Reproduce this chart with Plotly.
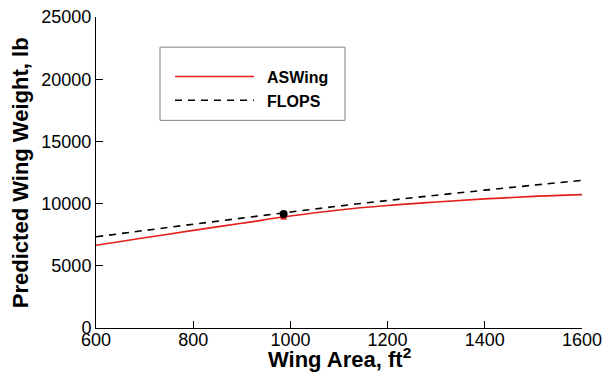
import plotly.graph_objects as go

# Data
area = [600, 700, 800, 900, 1000, 1100, 1200, 1300, 1400, 1500, 1600]
aswing_weight = [6650, 7250, 7850, 8420, 9000, 9490, 9850, 10130, 10380, 10580, 10720]
flops_weight = [7330, 7840, 8340, 8830, 9320, 9800, 10250, 10670, 11080, 11480, 11870]

design_area = [986]
design_aswing = [8950]
design_flops = [9170]

x_ticks = [600, 800, 1000, 1200, 1400, 1600]
y_ticks = [0, 5000, 10000, 15000, 20000, 25000]
y_tick_labels = [str(v) for v in y_ticks]
series_names = ["\u2002ASWing", "\u2002FLOPS"]
x_title = "Wing Area, ft<sup>2</sup>"
y_title = "Predicted Wing Weight, lb"

FONT = "Liberation Sans, Arial, Helvetica, sans-serif"

fig = go.Figure()
fig.add_trace(go.Scatter(
    x=area, y=aswing_weight, mode="lines", name=series_names[0],
    line=dict(color="#e3201b", width=1.6, shape="spline"),
))
fig.add_trace(go.Scatter(
    x=area, y=flops_weight, mode="lines", name=series_names[1],
    line=dict(color="black", width=1.6, dash="7px,6px", shape="spline"),
))
fig.add_trace(go.Scatter(
    x=design_area, y=design_aswing, mode="markers", showlegend=False,
    marker=dict(color="#e3201b", size=6, symbol="square"),
))
fig.add_trace(go.Scatter(
    x=design_area, y=design_flops, mode="markers", showlegend=False,
    marker=dict(color="black", size=8),
))

# the page body adds an 8px offset, so the figure is sized 8px smaller
fig.update_layout(
    width=608, height=371,
    margin=dict(l=88, r=34, t=9, b=51),
    paper_bgcolor="white", plot_bgcolor="white",
    font=dict(family=FONT, size=18, color="black"),
    showlegend=True,
    legend=dict(
        x=0.1523, y=0.863, xanchor="left", yanchor="top",
        bgcolor="rgba(0,0,0,0)", borderwidth=0,
        font=dict(family=FONT, size=16, color="black", weight="bold"),
        itemwidth=79, tracegroupgap=0,
    ),
    shapes=[dict(
        type="rect", xref="paper", yref="paper",
        x0=0.1317, x1=0.5123, y0=0.6677, y1=0.903,
        line=dict(color="#808080", width=1), fillcolor="rgba(0,0,0,0)", layer="below",
    )],
    annotations=[
        dict(text=x_title, xref="paper", yref="paper", x=0.5, y=-0.098,
             xanchor="center", yanchor="middle", showarrow=False,
             font=dict(family=FONT, size=22, weight="bold", color="black")),
        dict(text=y_title, xref="paper", yref="paper", x=-0.155, y=0.5,
             xanchor="center", yanchor="middle", showarrow=False, textangle=-90,
             font=dict(family=FONT, size=22, weight="bold", color="black")),
    ],
)

fig.update_xaxes(
    range=[600, 1600], tickvals=x_ticks, ticks="inside", ticklen=7,
    tickcolor="black", showline=True, linecolor="black", linewidth=1,
    showgrid=False, zeroline=False, mirror=False, automargin=False,
    ticklabelstandoff=-5, ticklabeloverflow="allow",
)
fig.update_yaxes(
    range=[0, 25000], tickvals=y_ticks, ticktext=y_tick_labels, ticks="inside", ticklen=7,
    tickcolor="black", showline=True, linecolor="black", linewidth=1,
    showgrid=False, zeroline=False, mirror=False, automargin=False,
    ticklabeloverflow="allow",
)

fig.write_html("out.html")
